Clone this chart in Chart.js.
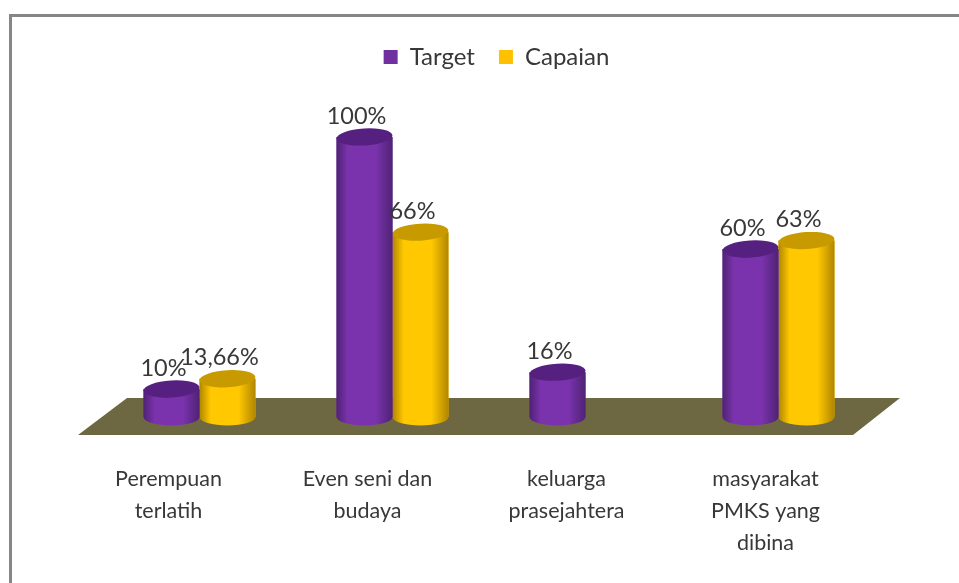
<!DOCTYPE html>
<html>
<head>
<meta charset="utf-8">
<title>Target dan Capaian</title>
<script src="https://cdn.jsdelivr.net/npm/chart.js@4/dist/chart.umd.min.js"></script>
<style>
  html, body { margin: 0; padding: 0; background: #fff; overflow: hidden; }
  #frame {
    position: absolute; left: 9px; top: 14px; right: 0; bottom: 0;
    border-top: 3px solid #868686; border-left: 3px solid #868686;
  }
  #wrap { position: absolute; left: 0; top: 0; width: 959px; height: 583px; }
</style>
</head>
<body>
<div id="frame"></div>
<div id="wrap"><canvas id="chart" width="959" height="583"></canvas></div>
<script>
const categories = [
  ['Perempuan', 'terlatih'],
  ['Even seni dan', 'budaya'],
  ['keluarga', 'prasejahtera'],
  ['masyarakat', 'PMKS yang', 'dibina'],
];
const targetValues = [10, 100, 16, 60];
const capaianValues = [13.66, 66, null, 63];

const PURPLE = '#7030a0';
const GOLD = '#ffc000';
const TEXT = '#383838';
const FONT = 'Lato, "Noto Sans", sans-serif';

// darker edges, lit middle, like the office 3D cylinder
const shades = {
  [PURPLE]: { edge: '#4f2274', mid: '#7a33ad', top: '#562080' },
  [GOLD]: { edge: '#b08600', mid: '#ffc800', top: '#c79a00' },
};

function sideGradient(ctx, left, right, color) {
  const s = shades[color];
  const g = ctx.createLinearGradient(left, 0, right, 0);
  g.addColorStop(0, s.edge);
  g.addColorStop(0.2, s.mid);
  g.addColorStop(0.7, s.mid);
  g.addColorStop(1, s.edge);
  return g;
}

// floor under the bars, placed relative to the axes
const floorPlugin = {
  id: 'floor',
  beforeDatasetsDraw(chart) {
    const { ctx, scales: { x, y } } = chart;
    const base = y.getPixelForValue(0);
    ctx.save();
    ctx.fillStyle = '#6e6842';
    ctx.beginPath();
    ctx.moveTo(x.left + 24, base - 19);
    ctx.lineTo(x.right + 25, base - 19);
    ctx.lineTo(x.right - 22, base + 18);
    ctx.lineTo(x.left - 25, base + 18);
    ctx.closePath();
    ctx.fill();
    ctx.restore();
  },
};

// shaded body and rounded ends for each bar, per dataset so gold sits over purple
const cylinderPlugin = {
  id: 'cylinder',
  afterDatasetDraw(chart, args) {
    const { ctx, scales: { y } } = chart;
    const base = y.getPixelForValue(0);
    const ds = chart.data.datasets[args.index];
    const color = ds.backgroundColor;
    args.meta.data.forEach((bar, i) => {
      if (ds.data[i] === null) return;
      const rx = bar.width / 2;
      const ry = 8.5;
      ctx.save();
      ctx.fillStyle = sideGradient(ctx, bar.x - rx, bar.x + rx, color);
      ctx.beginPath();
      ctx.moveTo(bar.x - rx, bar.y);
      ctx.lineTo(bar.x + rx, bar.y);
      ctx.lineTo(bar.x + rx, base);
      ctx.ellipse(bar.x, base, rx, ry, 0, 0, Math.PI);
      ctx.closePath();
      ctx.fill();
      ctx.fillStyle = shades[color].top;
      ctx.beginPath();
      ctx.ellipse(bar.x, bar.y, rx, ry, -0.06, 0, Math.PI * 2);
      ctx.fill();
      ctx.restore();
    });
  },
};

const valueLabelPlugin = {
  id: 'valueLabels',
  afterDraw(chart) {
    const { ctx } = chart;
    ctx.save();
    ctx.font = '23.5px ' + FONT;
    ctx.fillStyle = TEXT;
    ctx.textAlign = 'center';
    ctx.textBaseline = 'middle';
    chart.data.datasets.forEach((ds, d) => {
      chart.getDatasetMeta(d).data.forEach((bar, i) => {
        const v = ds.data[i];
        if (v === null) return;
        ctx.fillText(String(v).replace('.', ',') + '%', bar.x - 8, bar.y - 21);
      });
    });
    ctx.restore();
  },
};

new Chart(document.getElementById('chart'), {
  type: 'bar',
  data: {
    labels: categories,
    datasets: [
      { label: 'Target', data: targetValues, backgroundColor: PURPLE },
      { label: 'Capaian', data: capaianValues, backgroundColor: GOLD },
    ],
  },
  options: {
    responsive: false,
    animation: false,
    categoryPercentage: 0.58,
    barPercentage: 1,
    layout: { padding: { left: 103, right: 69, top: 21, bottom: 0 } },
    plugins: {
      tooltip: { enabled: false },
      legend: {
        position: 'top',
        labels: {
          font: { family: FONT, size: 24 },
          color: TEXT,
          boxWidth: 14,
          boxHeight: 14,
          padding: 24,
        },
      },
    },
    scales: {
      x: {
        grid: { display: false },
        border: { display: false },
        ticks: {
          color: TEXT,
          font: { family: FONT, size: 21.5, lineHeight: 1.49 },
          padding: 38,
          maxRotation: 0,
          autoSkip: false,
        },
        afterFit(scale) { scale.height = 166; },
        // the labels sit on the front edge of the floor, so they spread wider than the bars
        afterUpdate(scale) {
          const tickPixel = scale.getPixelForTick;
          scale.getPixelForTick = (i) => tickPixel.call(scale, i) - 31 + 6 * i;
        },
      },
      y: {
        position: 'right',
        min: 0,
        max: 120.7,
        grid: { display: false },
        border: { display: false },
        ticks: { display: false },
        afterFit(scale) { scale.width = 15; },
      },
    },
  },
  plugins: [floorPlugin, cylinderPlugin, valueLabelPlugin],
});
</script>
</body>
</html>
